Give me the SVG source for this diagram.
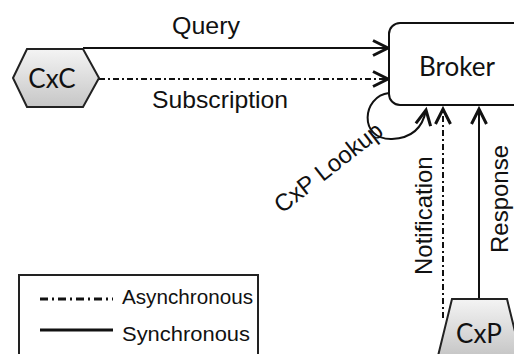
<svg xmlns="http://www.w3.org/2000/svg" width="514" height="354" viewBox="0 0 514 354">
<style>
.lbl{font-family:"Liberation Sans",Arial,sans-serif;font-size:24px;fill:#111}
.leg{font-family:"Liberation Sans",Arial,sans-serif;font-size:20px;fill:#111}
.node{font-family:Lato,"Open Sans",sans-serif;font-size:26px;fill:#111}
.sync{fill:none;stroke:#111;stroke-width:2}
.async{fill:none;stroke:#111;stroke-width:2;stroke-dasharray:6 3 2 3}
.shape{fill:url(#g);stroke:#222;stroke-width:2}
</style>
<defs>
<linearGradient id="g" x1="0" y1="0" x2="0" y2="1">
<stop offset="0" stop-color="#f4f4f4"/>
<stop offset="1" stop-color="#c6c6c6"/>
</linearGradient>
<marker id="arr" markerUnits="userSpaceOnUse" markerWidth="24" markerHeight="24" viewBox="-20 -12 24 24" refX="0" refY="0" orient="auto">
<path d="M-15,-7.5 L0,0 L-15,7.5" fill="none" stroke="#111" stroke-width="3"/>
</marker>
</defs>
<g id="connectors">
<line class="sync" x1="83" y1="48" x2="388" y2="48" marker-end="url(#arr)"/>
<line class="async" x1="99" y1="79" x2="388" y2="79" marker-end="url(#arr)"/>
<path class="sync" d="M389,93 C362,96 358,140 392,139 C414,138 423,126 426,110" marker-end="url(#arr)"/>
<line class="async" x1="443" y1="318" x2="443" y2="109" marker-end="url(#arr)"/>
<line class="sync" x1="479" y1="299" x2="479" y2="109" marker-end="url(#arr)"/>
<text class="lbl" x="172" y="34" textLength="68" lengthAdjust="spacingAndGlyphs">Query</text>
<text class="lbl" x="152" y="108" textLength="136" lengthAdjust="spacingAndGlyphs">Subscription</text>
<text class="lbl" transform="translate(282,214) rotate(-38)">CxP Lookup</text>
<text class="lbl" transform="translate(432,275) rotate(-90)">Notification</text>
<text class="lbl" transform="translate(508,253) rotate(-90)">Response</text>
</g>
<g id="broker">
<rect x="389" y="23" width="140" height="82" rx="11" fill="#fff" stroke="#111" stroke-width="2"/>
<text class="node" x="457" y="76" text-anchor="middle">Broker</text>
</g>
<g id="cxc">
<polygon class="shape" points="13,78 27,49 83,49 99,78 83,107 27,107"/>
<text class="node" x="52" y="88" text-anchor="middle">CxC</text>
</g>
<g id="cxp">
<polygon class="shape" points="452,299 507,299 521,356 438,356"/>
<text class="node" x="479" y="343" text-anchor="middle">CxP</text>
</g>
<g id="legend">
<rect x="19" y="275" width="239" height="90" fill="#fff" stroke="#222" stroke-width="2"/>
<line x1="40" y1="299" x2="113" y2="299" stroke="#111" stroke-width="3" stroke-dasharray="8 4 2 4"/>
<line x1="40" y1="330" x2="113" y2="330" stroke="#111" stroke-width="3"/>
<text class="leg" x="122" y="304" textLength="131" lengthAdjust="spacingAndGlyphs">Asynchronous</text>
<text class="leg" x="122" y="341" textLength="128" lengthAdjust="spacingAndGlyphs">Synchronous</text>
</g>
</svg>
